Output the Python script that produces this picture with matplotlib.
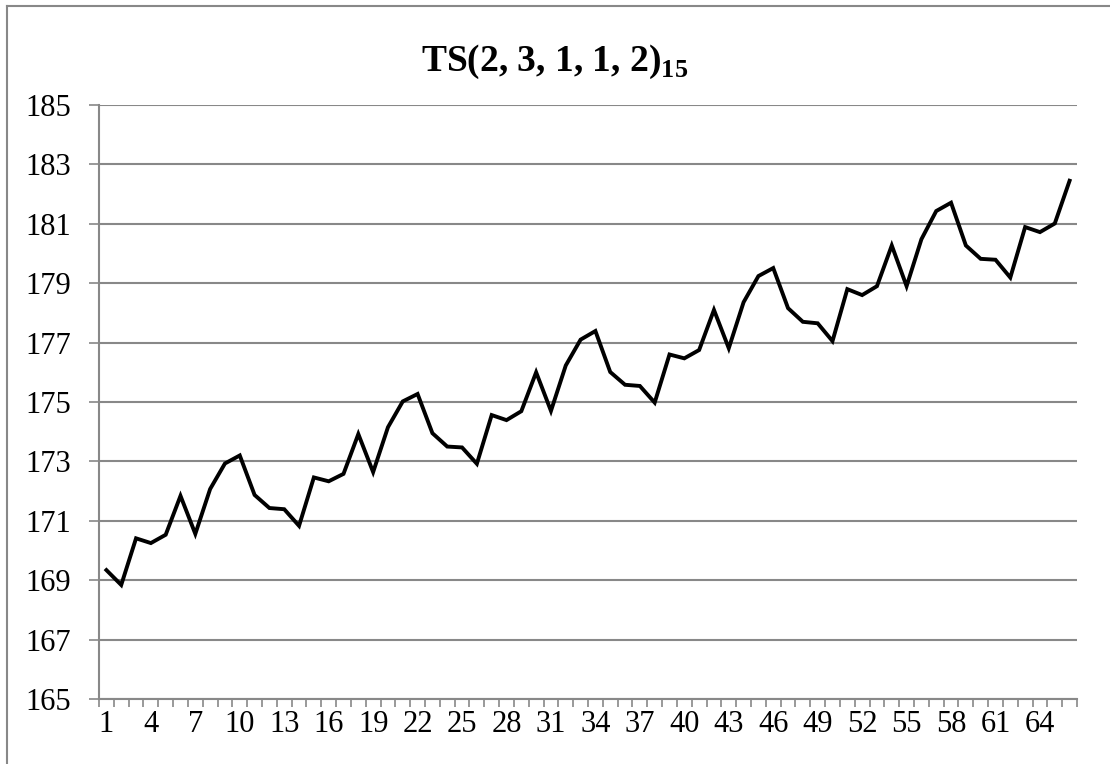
import numpy as np
import matplotlib.pyplot as plt
from matplotlib.lines import Line2D

# observations 1..66
periods = list(range(1, 67))
values = [169.34, 168.84, 170.41, 170.25, 170.53, 171.84, 170.56, 172.07, 172.93, 173.20,
          171.87, 171.43, 171.39, 170.83, 172.46, 172.33, 172.58, 173.92, 172.64, 174.15,
          175.02, 175.27, 173.95, 173.50, 173.47, 172.92, 174.56, 174.39, 174.69, 176.00,
          174.70, 176.23, 177.10, 177.39, 176.01, 175.58, 175.54, 174.98, 176.60, 176.47,
          176.75, 178.10, 176.81, 178.36, 179.24, 179.51, 178.16, 177.70, 177.65, 177.05,
          178.80, 178.60, 178.90, 180.27, 178.90, 180.48, 181.43, 181.71, 180.27, 179.82,
          179.79, 179.19, 180.89, 180.72, 181.01, 182.45]
y_ticks = list(range(165, 186, 2))
x_labels = list(range(1, 67, 3))

plt.rcParams['font.family'] = ['Liberation Serif', 'DejaVu Serif']
plt.rcParams['mathtext.fontset'] = 'custom'
plt.rcParams['mathtext.bf'] = 'Liberation Serif:bold'
plt.rcParams['mathtext.rm'] = 'Liberation Serif'

grid_col = '#888888'

fig = plt.figure(figsize=(11.1, 7.64), dpi=100)
ax = fig.add_axes([99/1110, 1 - 699/764, (1077 - 99)/1110, (699 - 105)/764])

ax.plot(periods, values, color='black', lw=2.8, solid_joinstyle='miter')

ax.set_xlim(0.5, 66.5)
ax.set_ylim(165, 185)
ax.set_yticks(y_ticks)
ax.set_yticklabels([str(v) for v in y_ticks])
ax.yaxis.grid(True, color=grid_col, lw=1.5)
ax.set_axisbelow(True)

# category labels every 3rd, tick marks between categories
ax.set_xticks(x_labels)
ax.set_xticklabels([str(v) for v in x_labels])
ax.set_xticks(np.arange(0.5, 67, 1.0), minor=True)
ax.tick_params(axis='x', which='major', length=0, pad=8, labelsize=22)
ax.tick_params(axis='x', which='minor', length=6, width=1.2, color=grid_col, direction='out')
ax.tick_params(axis='y', length=7, width=1.2, color=grid_col, pad=13, labelsize=22)

for s in ['top', 'right']:
    ax.spines[s].set_visible(False)
for s in ['left', 'bottom']:
    ax.spines[s].set_color(grid_col)
    ax.spines[s].set_linewidth(1.5)

fig.text(0.5, 1 - 62/764, r'TS(2, 3, 1, 1, 2)$_{\mathbf{15}}$', ha='center', va='center',
         fontsize=27, fontweight='bold')

# chart area border (left and top only visible)
fig.add_artist(Line2D([7/1110, 7/1110], [0, 1 - 6/764], color=grid_col, lw=1.5,
                      transform=fig.transFigure))
fig.add_artist(Line2D([7/1110, 1], [1 - 6/764, 1 - 6/764], color=grid_col, lw=1.5,
                      transform=fig.transFigure))

fig.savefig('out.png', dpi=100)
